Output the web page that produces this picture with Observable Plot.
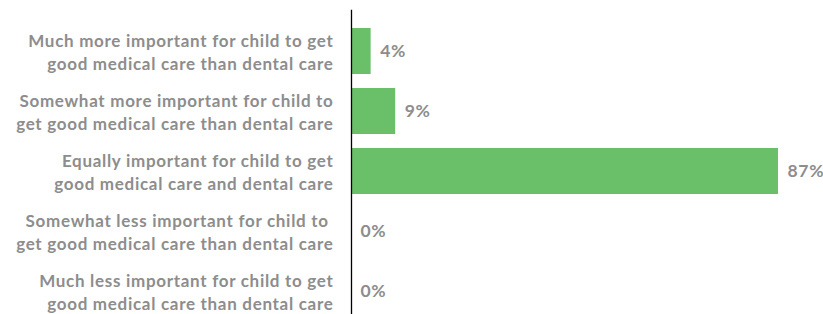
<!DOCTYPE html>
<html>
<head>
<meta charset="utf-8">
<script src="https://cdn.jsdelivr.net/npm/d3@7"></script>
<script src="https://cdn.jsdelivr.net/npm/@observablehq/plot@0.6"></script>
<style>
  html, body { margin: 0; padding: 0; background: #fff; }
  #chart svg { display: block; }
</style>
</head>
<body>
<div id="chart"></div>
<script>
const categories = [
  "Much more important for child to get\ngood medical care than dental care",
  "Somewhat more important for child to\nget good medical care than dental care",
  "Equally important for child to get\ngood medical care and dental care",
  "Somewhat less important for child to \nget good medical care than dental care",
  "Much less important for child to get\ngood medical care than dental care"
];
const values = [4, 9, 87, 0, 0];

const data = categories.map((c, i) => ({category: c, value: values[i]}));
const gray = "#8d8d8d";
const green = "#6abf69";
const font = "Lato, 'Open Sans', sans-serif";

const chart = Plot.plot({
  width: 823,
  height: 314,
  marginLeft: 351,
  marginRight: 45,
  marginTop: 10,
  marginBottom: 0,
  style: {fontFamily: font, background: "#fff", letterSpacing: "0.7px"},
  x: {domain: [0, d3.max(values)], axis: null},
  y: {domain: categories, paddingInner: 0.24, paddingOuter: 0, insetTop: 17, label: null},
  marks: [
    Plot.barX(data, {x: "value", y: "category", fill: green}),
    Plot.axisY({
      tickSize: 0,
      tickPadding: 18,
      fontSize: 17,
      fontWeight: "bold",
      fill: gray,
      lineHeight: 1.36,
      label: null
    }),
    Plot.text(data, {
      x: "value", y: "category",
      text: d => d.value + "%",
      textAnchor: "start", dx: 9,
      fill: gray, fontSize: 17.5, fontWeight: "bold"
    }),
    Plot.frame({anchor: "left", stroke: "#000", strokeWidth: 1.3})
  ]
});
document.getElementById("chart").appendChild(chart);
</script>
</body>
</html>
